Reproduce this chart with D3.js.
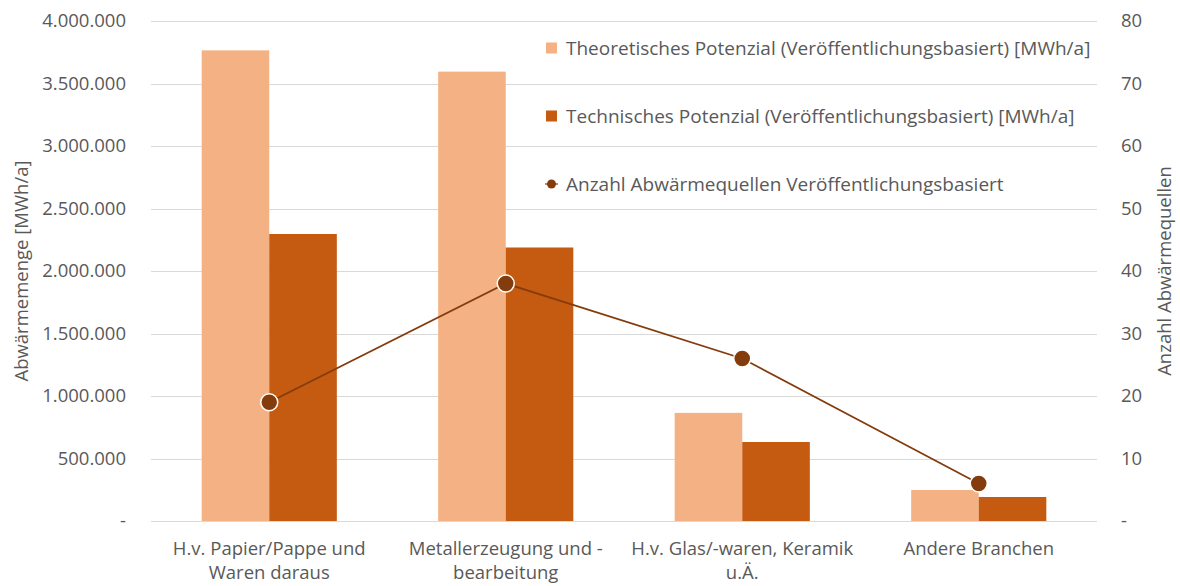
<!DOCTYPE html>
<html>
<head>
<meta charset="utf-8">
<script src="https://cdn.jsdelivr.net/npm/d3@7"></script>
<style>
  body { margin: 0; background: #fff; }
  svg text { font-family: "Open Sans", "Noto Sans", sans-serif; fill: #595959; }
</style>
</head>
<body>
<svg id="chart"></svg>
<script>
// categories and series
var categories = [
  ["H.v. Papier/Pappe und", "Waren daraus"],
  ["Metallerzeugung und -", "bearbeitung"],
  ["H.v. Glas/-waren, Keramik", "u.Ä."],
  ["Andere Branchen"]
];
var theoretisch = [3765000, 3595000, 865000, 248000];
var technisch = [2296000, 2188000, 632000, 192000];
var anzahl = [19, 38, 26, 6];

var leftTicks = [0, 500000, 1000000, 1500000, 2000000, 2500000, 3000000, 3500000, 4000000];
var rightTicks = [0, 10, 20, 30, 40, 50, 60, 70, 80];

var seriesNames = [
  "Theoretisches Potenzial (Veröffentlichungsbasiert) [MWh/a]",
  "Technisches Potenzial (Veröffentlichungsbasiert) [MWh/a]",
  "Anzahl Abwärmequellen Veröffentlichungsbasiert"
];
var colors = ["#F4B183", "#C55A11", "#843C0C"];

var width = 1180, height = 586;
var margin = {top: 21, right: 83, bottom: 65, left: 151};
var fontSize = "18.5px";

var svg = d3.select("#chart")
  .attr("width", width)
  .attr("height", height);

var x = d3.scaleBand()
  .domain(d3.range(categories.length))
  .range([margin.left, width - margin.right])
  .paddingInner(0.4286)
  .paddingOuter(0.2143);

var y = d3.scaleLinear().domain([0, 4000000]).range([height - margin.bottom, margin.top]);
var y2 = d3.scaleLinear().domain([0, 80]).range([height - margin.bottom, margin.top]);

var fmt = function (v) {
  if (v === 0) return "-";
  return d3.format(",")(v).replace(/,/g, ".");
};

// gridlines
svg.append("g")
  .selectAll("line")
  .data(leftTicks)
  .enter().append("line")
  .attr("x1", margin.left)
  .attr("x2", width - margin.right)
  .attr("y1", d => Math.round(y(d)) + 0.5)
  .attr("y2", d => Math.round(y(d)) + 0.5)
  .attr("stroke", "#D9D9D9")
  .attr("stroke-width", 1);

// left axis
var leftAxis = svg.append("g")
  .attr("transform", "translate(" + margin.left + ",0)")
  .call(d3.axisLeft(y).tickValues(leftTicks).tickFormat(fmt).tickSize(0).tickPadding(25));
leftAxis.select(".domain").remove();
leftAxis.selectAll("text").style("font-size", fontSize).attr("fill", "#595959");

// right axis
var rightAxis = svg.append("g")
  .attr("transform", "translate(" + (width - margin.right) + ",0)")
  .call(d3.axisRight(y2).tickValues(rightTicks).tickFormat(fmt).tickSize(0).tickPadding(24));
rightAxis.select(".domain").remove();
rightAxis.selectAll("text").style("font-size", fontSize).attr("fill", "#595959");

// bars
var sub = d3.scaleBand().domain([0, 1]).range([0, x.bandwidth()]);

var groups = svg.append("g")
  .selectAll("g")
  .data(categories.map((c, i) => i))
  .enter().append("g")
  .attr("transform", d => "translate(" + x(d) + ",0)");

groups.append("rect")
  .attr("x", sub(0))
  .attr("width", sub.bandwidth())
  .attr("y", d => y(theoretisch[d]))
  .attr("height", d => y(0) - y(theoretisch[d]))
  .attr("fill", colors[0]);

groups.append("rect")
  .attr("x", sub(1))
  .attr("width", sub.bandwidth())
  .attr("y", d => y(technisch[d]))
  .attr("height", d => y(0) - y(technisch[d]))
  .attr("fill", colors[1]);

// line
var line = d3.line()
  .x((d, i) => x(i) + x.bandwidth() / 2)
  .y(d => y2(d));

svg.append("path")
  .datum(anzahl)
  .attr("d", line)
  .attr("fill", "none")
  .attr("stroke", colors[2])
  .attr("stroke-width", 1.8);

svg.append("g")
  .selectAll("circle")
  .data(anzahl)
  .enter().append("circle")
  .attr("cx", (d, i) => x(i) + x.bandwidth() / 2)
  .attr("cy", d => y2(d))
  .attr("r", 8.5)
  .attr("fill", colors[2])
  .attr("stroke", "#fff")
  .attr("stroke-width", 1.5);

// category labels
var catLabels = svg.append("g")
  .selectAll("text")
  .data(categories)
  .enter().append("text")
  .attr("x", (d, i) => x(i) + x.bandwidth() / 2)
  .attr("y", 555)
  .attr("text-anchor", "middle")
  .style("font-size", fontSize);

catLabels.selectAll("tspan")
  .data(d => d)
  .enter().append("tspan")
  .attr("x", function () { return d3.select(this.parentNode).attr("x"); })
  .attr("dy", (d, i) => i === 0 ? 0 : 24)
  .text(d => d);

// axis titles
svg.append("text")
  .attr("transform", "translate(28,271) rotate(-90)")
  .attr("text-anchor", "middle")
  .style("font-size", fontSize)
  .text("Abwärmemenge [MWh/a]");

svg.append("text")
  .attr("transform", "translate(1171,271) rotate(-90)")
  .attr("text-anchor", "middle")
  .style("font-size", fontSize)
  .text("Anzahl Abwärmequellen");

// legend
var legendY = [48, 116, 184];
var legend = svg.append("g")
  .selectAll("g")
  .data(seriesNames)
  .enter().append("g")
  .attr("transform", (d, i) => "translate(546," + legendY[i] + ")");

legend.each(function (d, i) {
  var g = d3.select(this);
  if (i < 2) {
    g.append("rect")
      .attr("x", 0).attr("y", -5.5)
      .attr("width", 11).attr("height", 11)
      .attr("fill", colors[i]);
  } else {
    g.append("line")
      .attr("x1", -1).attr("x2", 12)
      .attr("stroke", colors[2]).attr("stroke-width", 1.2);
    g.append("circle")
      .attr("cx", 5.5).attr("r", 4.5)
      .attr("fill", colors[2]);
  }
  g.append("text")
    .attr("x", 20)
    .attr("dy", "0.35em")
    .style("font-size", "19px")
    .text(d);
});
</script>
</body>
</html>
